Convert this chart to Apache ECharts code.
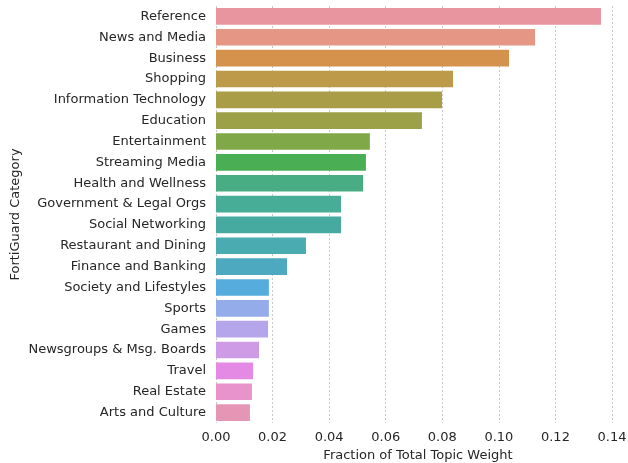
<!DOCTYPE html>
<html><head><meta charset="utf-8">
<script src="https://cdn.jsdelivr.net/npm/echarts@6/dist/echarts.min.js"></script>
<style>html,body{margin:0;padding:0;background:#fff}#c{width:628px;height:463px}</style>
</head><body><div id="c"></div>
<script>
const categories = ["Reference","News and Media","Business","Shopping","Information Technology","Education","Entertainment","Streaming Media","Health and Wellness","Government & Legal Orgs","Social Networking","Restaurant and Dining","Finance and Banking","Society and Lifestyles","Sports","Games","Newsgroups & Msg. Boards","Travel","Real Estate","Arts and Culture"];
const values = [0.1361,0.1128,0.1036,0.0838,0.0799,0.0728,0.0544,0.0530,0.0520,0.0442,0.0442,0.0318,0.0251,0.0187,0.0187,0.0184,0.0152,0.0131,0.0127,0.0120];
const colors = ["#e9959f","#e69684","#d5924c","#bd9a4a","#aa9d48","#9ca046","#80a848","#49ae54","#48ad83","#48ad97","#47aaa0","#4aabb0","#4da9bf","#56acdc","#95acea","#b5a6ec","#ce9be6","#e48ae4","#e894cb","#e696b5"];
const xTicks = [0,0.02,0.04,0.06,0.08,0.10,0.12,0.14];

const chart = echarts.init(document.getElementById('c'), null, {renderer:'canvas'});
const txt = '#262626';
const fs = 13;
chart.setOption({
  animation:false,
  grid:{left:216, top:6, right:16, bottom:40, containLabel:false, outerBoundsMode:'none'},
  xAxis:{
    type:'value', min:xTicks[0], max:xTicks[xTicks.length-1], interval:0.02,
    name:'Fraction of Total Topic Weight', nameLocation:'middle', nameGap:26, nameMoveOverlap:false,
    nameTextStyle:{color:txt, fontSize:fs, fontFamily:'DejaVu Sans', padding:[0,0,0,8]},
    axisLine:{show:false}, axisTick:{show:false},
    axisLabel:{color:txt, fontSize:fs, fontFamily:'DejaVu Sans', margin:8, formatter:v=>v.toFixed(2)},
    splitLine:{show:true, lineStyle:{color:'#c8c8c8', type:[2,2], width:1}}
  },
  yAxis:{
    type:'category', data:categories, inverse:true,
    name:'FortiGuard Category', nameLocation:'middle', nameGap:194, nameMoveOverlap:false,
    nameTextStyle:{color:txt, fontSize:fs, fontFamily:'DejaVu Sans'},
    axisLine:{show:false}, axisTick:{show:false},
    axisLabel:{color:txt, fontSize:fs, fontFamily:'DejaVu Sans', margin:10},
    splitLine:{show:false}
  },
  series:[{
    type:'bar', barCategoryGap:'20%',
    data: values.map((v,i)=>({value:v, itemStyle:{color:colors[i]}}))
  }]
});
</script></body></html>
